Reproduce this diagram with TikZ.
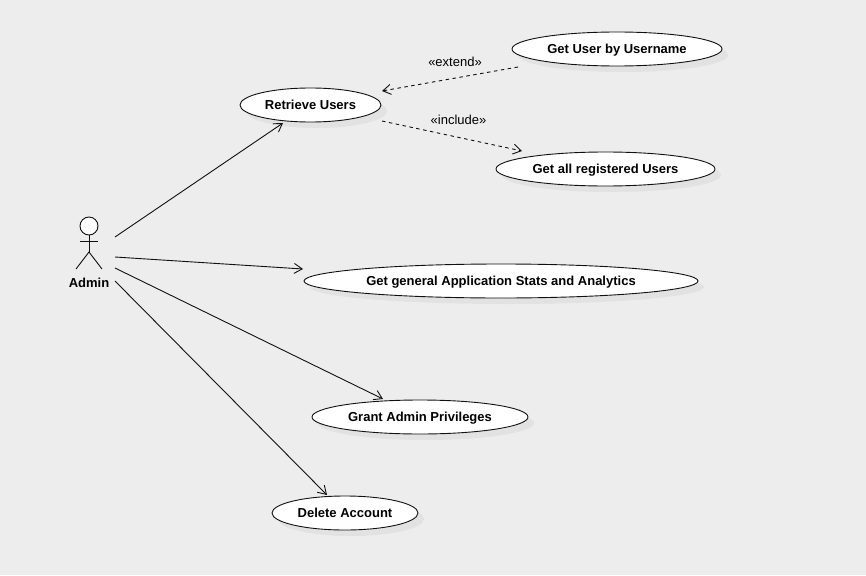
\documentclass[tikz,border=0pt]{standalone}
\usepackage{fontspec}
\setmainfont{Liberation Sans}
\usetikzlibrary{arrows.meta,shapes.geometric}
\definecolor{bg}{HTML}{EDEDEE}
\definecolor{shade}{HTML}{E2E2E3}
\definecolor{ink}{HTML}{111111}
\tikzset{
  x=1pt,y=-1pt,
  usecase/.style={ellipse,draw=ink,fill=white,line width=0.9pt,inner sep=0pt,outer sep=0pt,text height=9.4pt,text depth=0pt,font=\fontsize{13}{15}\selectfont\bfseries,text=black},
  ushadow/.style={ellipse,fill=shade,inner sep=0pt,outer sep=0pt},
  assoc/.style={draw=ink,line width=0.9pt,-{Straight Barb[length=8pt,width=10pt,line width=0.9pt]}},
  dep/.style={assoc,dash pattern=on 3.5pt off 3.5pt},
  deplabel/.style={font=\fontsize{13}{15}\selectfont,text=black,inner sep=0pt},
  actorline/.style={draw=ink,line width=0.9pt},
}
\begin{document}
\begin{tikzpicture}
\useasboundingbox (0,0) rectangle (866,575);
\fill[bg] (0,0) rectangle (866,575);
% shadows
\node[ushadow,minimum width=141pt,minimum height=34pt] at (316.5,111) {};
\node[ushadow,minimum width=210pt,minimum height=34pt] at (623,55) {};
\node[ushadow,minimum width=219pt,minimum height=34pt] at (611.5,175) {};
\node[ushadow,minimum width=394pt,minimum height=34pt] at (507,287) {};
\node[ushadow,minimum width=216pt,minimum height=34pt] at (426,423) {};
\node[ushadow,minimum width=146pt,minimum height=34pt] at (351,519) {};
% use cases
\node[usecase,minimum width=141pt,minimum height=34pt] (retrieve) at (310.5,105) {Retrieve Users};
\node[usecase,minimum width=210pt,minimum height=34pt] (byname) at (617,49) {Get User by Username};
\node[usecase,minimum width=219pt,minimum height=34pt] (allusers) at (605.5,169) {Get all registered Users};
\node[usecase,minimum width=394pt,minimum height=34pt] (stats) at (501,281) {Get general Application Stats and Analytics};
\node[usecase,minimum width=216pt,minimum height=34pt] (grant) at (420,417) {Grant Admin Privileges};
\node[usecase,minimum width=146pt,minimum height=34pt] (delete) at (345,513) {Delete Account};
% actor
\node[circle,draw=ink,fill=white,line width=0.9pt,minimum size=18pt,inner sep=0pt] (head) at (89,226) {};
\coordinate (hip) at (89,252);
\coordinate (armL) at (80,241);
\coordinate (armR) at (98,241);
\coordinate (footL) at (76,269);
\coordinate (footR) at (102,269);
\draw[actorline] (head.south) -- (hip);
\draw[actorline] (armL) -- (armR);
\draw[actorline] (footL) -- (hip) -- (footR);
\node[font=\fontsize{13}{15}\selectfont\bfseries,inner sep=0pt] (admin) at (89,283) {Admin};
% connector ends
\coordinate (a1) at (115,237);
\coordinate (a2) at (115,257);
\coordinate (a3) at (115,268);
\coordinate (a4) at (115,281);
\coordinate (t1) at (283,123);
\coordinate (t2) at (303,269);
\coordinate (t3) at (383,399);
\coordinate (t4) at (327,495);
\draw[assoc] (a1) -- (t1);
\draw[assoc] (a2) -- (t2);
\draw[assoc] (a3) -- (t3);
\draw[assoc] (a4) -- (t4);
\coordinate (e1) at (518,67);
\coordinate (e2) at (382,91);
\coordinate (i1) at (382,121);
\coordinate (i2) at (522,151);
\draw[dep] (e1) -- (e2);
\draw[dep] (i1) -- (i2);
\node[deplabel] (extendlabel) at (455,61.5) {«extend»};
\node[deplabel] (includelabel) at (458.5,119.5) {«include»};
\end{tikzpicture}
\end{document}
